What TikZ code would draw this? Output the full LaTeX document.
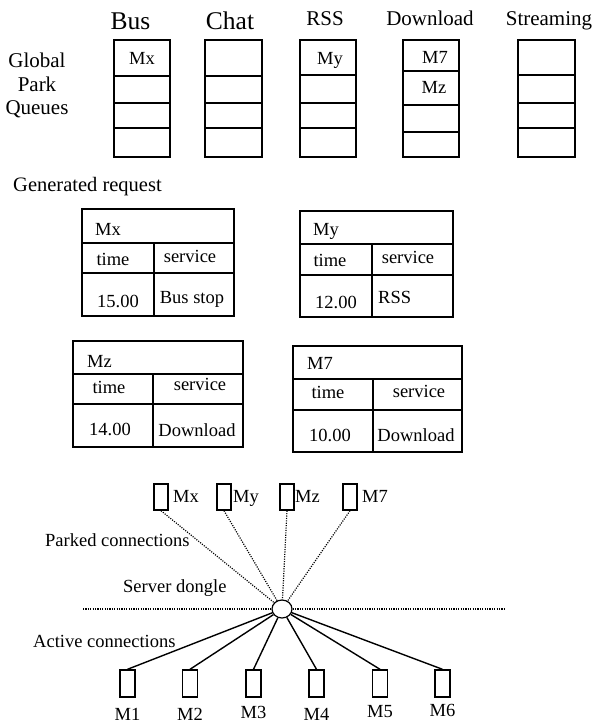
\documentclass[tikz,border=0pt]{standalone}
\usepackage{fontspec}
\setmainfont{Liberation Serif}
\usetikzlibrary{shapes.geometric}
\begin{document}
\begin{tikzpicture}[x=1pt,y=-1pt,
  box/.style={draw,line width=1.6pt},
  cell/.style={line width=1.6pt},
  t/.style={inner sep=0pt,anchor=base,font=\fontsize{18.5}{22}\selectfont},
  tl/.style={t,anchor=base west},
  hd/.style={inner sep=0pt,anchor=base,font=\fontsize{21}{24}\selectfont},
  hdbig/.style={inner sep=0pt,anchor=base,font=\fontsize{25.5}{28}\selectfont},
  phone/.style={draw,line width=1.4pt,minimum width=14pt,minimum height=26pt,inner sep=0pt},
  dongle/.style={draw,ellipse,line width=1.2pt,minimum width=20pt,minimum height=18pt,inner sep=0pt},
  parked/.style={line width=1.2pt,dash pattern=on 1.1pt off 1.3pt},
  active/.style={line width=1.4pt}]
\useasboundingbox (0,0) rectangle (594,724);

% --- global park queues ---
\node[hd] (lg) at (37,67) {Global};
\node[hd] (lp) at (37,91) {Park};
\node[hd] (lq) at (37,114) {Queues};

\node[hdbig] (hbus) at (130.5,29) {Bus};
\node[hdbig] (hchat) at (230,29) {Chat};
\node[hd] (hrss) at (325,25) {RSS};
\node[hd] (hdl) at (430,25) {Download};
\node[hd] (hstr) at (549,25) {Streaming};

\foreach \xa/\xb/\ya/\yb/\yc in {114/170/76/103/128, 205/262/76/103/128, 300/356/75/103/128, 403/459/71/105/132, 518/575/75/103/128}{
  \draw[box] (\xa,40) rectangle (\xb,157);
  \draw[cell] (\xa,\ya) -- (\xb,\ya) (\xa,\yb) -- (\xb,\yb) (\xa,\yc) -- (\xb,\yc);
}
\node[t] (qmx) at (142,64) {Mx};
\node[t] (qmy) at (330,64) {My};
\node[t] (qm7) at (435,63) {M7};
\node[t] (qmz) at (434,93) {Mz};

% --- generated requests ---
\node[hd,anchor=base west,font=\fontsize{20.5}{24}\selectfont] (gen) at (13,191) {Generated request};

% Mx table
\draw[box] (82,209) rectangle (234,316);
\draw[cell] (82,243) -- (234,243) (82,273) -- (234,273) (154,243) -- (154,316);
\node[tl] (tmx) at (95,235) {Mx};
\node[t] at (113,265) {time};
\node[t] at (190,262) {service};
\node[t] at (118,307) {15.00};
\node[t] at (192,303) {Bus stop};

% My table
\draw[box] (300,211) rectangle (453,317);
\draw[cell] (300,244) -- (453,244) (300,275) -- (453,275) (372,244) -- (372,317);
\node[tl] (tmy) at (313,235) {My};
\node[t] at (330,266) {time};
\node[t] at (408,263) {service};
\node[t] at (336,308) {12.00};
\node[tl] at (378,303) {RSS};

% Mz table
\draw[box] (73,341) rectangle (243,447);
\draw[cell] (73,374) -- (243,374) (73,404) -- (243,404) (153,374) -- (153,447);
\node[tl] (tmz) at (87,367) {Mz};
\node[t] at (109,393) {time};
\node[t] at (200,390) {service};
\node[t] at (110,435) {14.00};
\node[t] at (197,436) {Download};

% M7 table
\draw[box] (293,346) rectangle (462,452);
\draw[cell] (293,379) -- (462,379) (293,410) -- (462,410) (373,379) -- (373,452);
\node[tl] (tm7) at (307,369) {M7};
\node[t] at (328,398) {time};
\node[t] at (419,397) {service};
\node[t] at (330,441) {10.00};
\node[t] at (416,441) {Download};

% --- connections ---
\node[dongle] (dg) at (282,609) {};
\coordinate (hl) at (83,609);
\coordinate (hr) at (505,609);
\draw[parked] (hl) -- (dg.west) (dg.east) -- (hr);

\node[phone] (px) at (161,497) {};
\node[phone] (py) at (224,497) {};
\node[phone] (pz) at (287,497) {};
\node[phone] (p7) at (350,497) {};
\node[tl] at (173,502) {Mx};
\node[tl] at (233,502) {My};
\node[tl] at (295,502) {Mz};
\node[tl] at (362,502) {M7};

\foreach \p in {px,py,pz,p7}{ \draw[parked] (\p.south) -- (dg); }

\node[tl] (lpark) at (45,546) {Parked connections};
\node[tl] (lserv) at (123,592) {Server dongle};
\node[tl] (lact) at (33,647) {Active connections};

\foreach \n/\x/\yl in {1/127.5/720, 2/190/720, 3/253.5/718, 4/316.5/720, 5/380/717.5, 6/442.5/716}{
  \node[phone,minimum width=15pt,minimum height=27pt] (a\n) at (\x,683.5) {};
  \node[t] (la\n) at (\x,\yl) {M\n};
  \draw[active] (dg) -- (a\n.north);
}
\end{tikzpicture}
\end{document}
